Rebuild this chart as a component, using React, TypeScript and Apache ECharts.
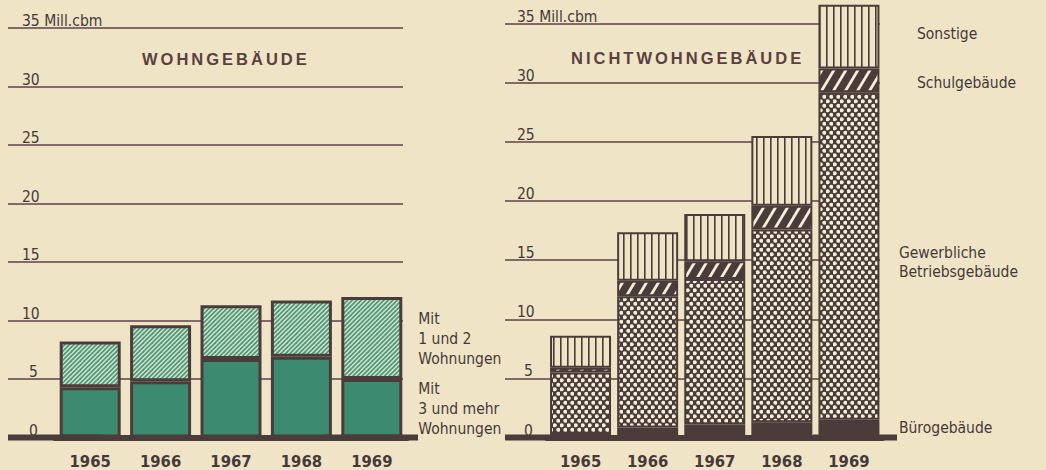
import React, { useEffect, useRef } from 'react';
import * as echarts from 'echarts';

// ---------- data (Mill. cbm) ----------
const years = ['1965', '1966', '1967', '1968', '1969'];
const yTicks = [0, 5, 10, 15, 20, 25, 30, 35];

// Wohngebäude
const mit3undMehr = [4.3, 4.8, 6.7, 6.9, 5.0];
const mit1und2 = [3.9, 4.8, 4.6, 4.8, 7.0];

// Nichtwohngebäude
const buero = [0.3, 0.85, 1.1, 1.3, 1.5];
const gewerblich = [5.2, 11.1, 12.3, 16.3, 27.7];
const schul = [0.4, 1.3, 1.5, 2.0, 2.0];
const sonstige = [2.7, 4.1, 4.0, 5.9, 5.4];

// ---------- style ----------
const BG = '#efe5c6';
const CREAM = '#f6efd8';
const DARK = '#4a3c3a';
const GRID = '#5f4149';
const TEXT = '#45393a';
const TITLE = '#5a4041';
const GREEN = '#3c8a70';
const HATCH_GREEN = '#4f987b';
const HATCH_LIGHT = '#d6e6cd';
const NARROW = '"DejaVu Sans Condensed", "Liberation Sans Narrow", "Arial Narrow", sans-serif';
const TITLE_FONT = 'TitleFace, "Liberation Sans", Arial, sans-serif';
const FS = 15.5;

function makeTile(w: number, h: number, draw: (ctx: CanvasRenderingContext2D) => void) {
  const c = document.createElement('canvas');
  c.width = w;
  c.height = h;
  const ctx = c.getContext('2d') as CanvasRenderingContext2D;
  draw(ctx);
  return { image: c, repeat: 'repeat', imageWidth: w, imageHeight: h } as any;
}

function withLabel(values: number[], text: string, distance: number, offset: number[], lineHeight = 20) {
  return values.map((v, i) =>
    i === values.length - 1
      ? {
          value: v,
          label: {
            show: true,
            position: 'right',
            distance,
            offset,
            formatter: text,
            color: TEXT,
            fontFamily: NARROW,
            fontSize: FS,
            lineHeight,
            align: 'left',
          },
        }
      : v
  );
}

function yAxisFor(gridIndex: number, max: number, offset: number, tickLen: number, margin: number) {
  return {
    gridIndex,
    type: 'value',
    min: 0,
    max,
    offset,
    axisLine: { show: false },
    splitLine: { show: false },
    axisTick: {
      show: true,
      inside: true,
      length: tickLen,
      customValues: yTicks,
      lineStyle: { color: GRID, width: 1.6 },
    },
    axisLabel: {
      show: true,
      inside: true,
      margin,
      customValues: yTicks,
      align: 'left',
      verticalAlign: 'bottom',
      color: TEXT,
      fontFamily: NARROW,
      fontSize: FS,
      lineHeight: 14,
      formatter: (v: number) => (v === 35 ? '35 Mill.cbm' : v < 10 ? `{s|${v}}` : String(v)),
      rich: { s: { padding: [0, 0, 0, 7], color: TEXT, fontFamily: NARROW, fontSize: FS, lineHeight: 14 } },
    },
  };
}

function xAxisFor(gridIndex: number, symLen: number, endOffset: number) {
  return {
    gridIndex,
    type: 'category',
    data: years,
    offset: 2,
    z: 5,
    axisLine: {
      show: true,
      lineStyle: { color: DARK, width: 6 },
      symbol: ['rect', 'rect'],
      symbolSize: [6, symLen],
      symbolOffset: [0, endOffset],
    },
    axisTick: { show: false },
    splitLine: { show: false },
    axisLabel: {
      interval: 0,
      margin: 22,
      verticalAlign: 'middle',
      color: TEXT,
      fontFamily: NARROW,
      fontSize: 16.5,
      fontWeight: 'bold',
    },
  };
}

export default function App() {
  const ref = useRef<HTMLDivElement>(null);

  useEffect(() => {
    if (!ref.current) return;
    const chart = echarts.init(ref.current, undefined, { renderer: 'svg', width: 1046, height: 470 });

    const greenHatch = makeTile(9, 9, (ctx) => {
      ctx.fillStyle = HATCH_LIGHT;
      ctx.fillRect(0, 0, 9, 9);
      ctx.strokeStyle = HATCH_GREEN;
      ctx.lineWidth = 1.8;
      for (const c of [0, 4.5, 9, 13.5, 18]) {
        ctx.beginPath();
        ctx.moveTo(c + 3, -3);
        ctx.lineTo(-3, c + 3);
        ctx.stroke();
      }
    });

    const schulPat = makeTile(12, 20, (ctx) => {
      ctx.fillStyle = DARK;
      ctx.fillRect(0, 0, 12, 20);
      ctx.strokeStyle = CREAM;
      ctx.lineWidth = 2.8;
      for (const k of [0, 1, 2]) {
        ctx.beginPath();
        ctx.moveTo(12 * (k + 1), -20);
        ctx.lineTo(12 * (k - 2), 40);
        ctx.stroke();
      }
    });

    const dotsPat = makeTile(7, 9, (ctx) => {
      ctx.fillStyle = DARK;
      ctx.fillRect(0, 0, 7, 9);
      ctx.fillStyle = CREAM;
      const dots = [
        [1.75, 2.25],
        [5.25, 6.75],
      ];
      for (const [x, y] of dots) {
        ctx.beginPath();
        ctx.arc(x, y, 2.0, 0, Math.PI * 2);
        ctx.fill();
      }
    });

    const sonstPat = makeTile(7, 8, (ctx) => {
      ctx.fillStyle = BG;
      ctx.fillRect(0, 0, 7, 8);
      ctx.fillStyle = DARK;
      ctx.fillRect(0, 0, 1.6, 8);
    });

    const common = {
      type: 'bar',
      barWidth: 61,
      silent: true,
      emphasis: { disabled: true },
    };

    const option: any = {
      animation: false,
      backgroundColor: BG,
      grid: [
        { left: 55, top: 28, width: 352, height: 410.5 },
        { left: 547, top: 0, width: 335.5, height: 438.3 },
      ],
      xAxis: [xAxisFor(0, 94, -36), xAxisFor(1, 84, -27.5)],
      yAxis: [yAxisFor(0, 35, 47, 395, 14), yAxisFor(1, 37, 42, 375, 12)],
      graphic: [
        {
          type: 'text',
          x: 142,
          y: 59,
          silent: true,
          style: {
            text: 'WOHNGEBÄUDE',
            fill: TITLE,
            fontSize: 16.5,
            fontWeight: 'bold',
            fontFamily: TITLE_FONT,
            textVerticalAlign: 'middle',
          },
        },
        {
          type: 'text',
          x: 571,
          y: 58,
          silent: true,
          style: {
            text: 'NICHTWOHNGEBÄUDE',
            fill: TITLE,
            fontSize: 16.5,
            fontWeight: 'bold',
            fontFamily: TITLE_FONT,
            textVerticalAlign: 'middle',
          },
        },
      ],
      series: [
        {
          ...common,
          name: 'Mit 3 und mehr Wohnungen',
          xAxisIndex: 0,
          yAxisIndex: 0,
          stack: 'wohn',
          data: withLabel(mit3undMehr, 'Mit\n3 und mehr\nWohnungen', 16, [0, 1]),
          itemStyle: { color: GREEN, borderColor: DARK, borderWidth: 3 },
        },
        {
          ...common,
          name: 'Mit 1 und 2 Wohnungen',
          xAxisIndex: 0,
          yAxisIndex: 0,
          stack: 'wohn',
          data: withLabel(mit1und2, 'Mit\n1 und 2\nWohnungen', 16, [0, 1]),
          itemStyle: { color: greenHatch, borderColor: DARK, borderWidth: 3 },
        },
        {
          ...common,
          name: 'Bürogebäude',
          xAxisIndex: 1,
          yAxisIndex: 1,
          stack: 'nicht',
          data: withLabel(buero, 'Bürogebäude', 19.5, [0, -1]),
          itemStyle: { color: DARK, borderColor: DARK, borderWidth: 2 },
        },
        {
          ...common,
          name: 'Gewerbliche Betriebsgebäude',
          xAxisIndex: 1,
          yAxisIndex: 1,
          stack: 'nicht',
          data: withLabel(gewerblich, 'Gewerbliche\nBetriebsgebäude', 19.5, [0, 7], 19),
          itemStyle: { color: dotsPat, borderColor: DARK, borderWidth: 2 },
        },
        {
          ...common,
          name: 'Schulgebäude',
          xAxisIndex: 1,
          yAxisIndex: 1,
          stack: 'nicht',
          data: withLabel(schul, 'Schulgebäude', 37.5, [0, 3]),
          itemStyle: { color: schulPat, borderColor: DARK, borderWidth: 2 },
        },
        {
          ...common,
          name: 'Sonstige',
          xAxisIndex: 1,
          yAxisIndex: 1,
          stack: 'nicht',
          data: withLabel(sonstige, 'Sonstige', 37.5, [0, -3]),
          itemStyle: { color: sonstPat, borderColor: DARK, borderWidth: 2 },
        },
      ],
    };

    chart.setOption(option);
    return () => chart.dispose();
  }, []);

  return (
    <>
      <style>{'text[style*="TitleFace"]{letter-spacing:3px;}'}</style>
      <div
        ref={ref}
        style={{ position: 'fixed', left: 0, top: 0, width: 1046, height: 470, background: BG }}
      />
    </>
  );
}
